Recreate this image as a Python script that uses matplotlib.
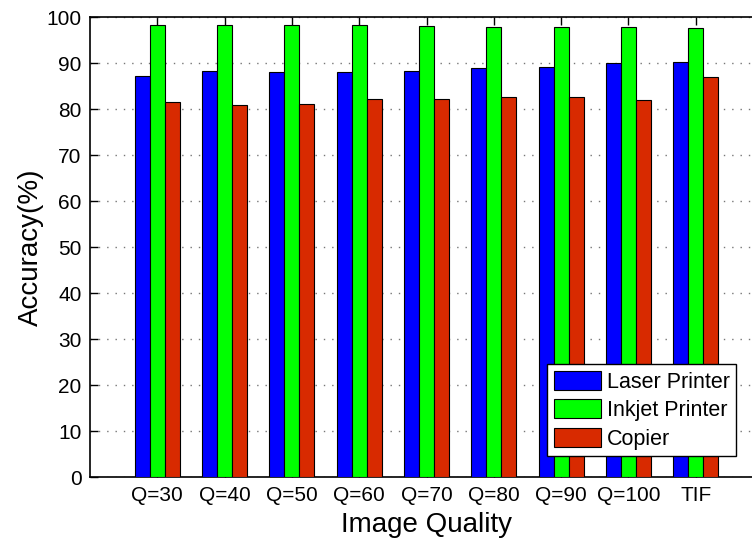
import matplotlib
matplotlib.use("Agg")
import matplotlib.pyplot as plt
import numpy as np

plt.rcParams['font.family'] = ['Liberation Sans', 'DejaVu Sans']

categories = ["Q=30", "Q=40", "Q=50", "Q=60", "Q=70", "Q=80", "Q=90", "Q=100", "TIF"]
laser = [87.2, 88.3, 88.2, 88.2, 88.4, 88.9, 89.1, 90.1, 90.2]
inkjet = [98.3, 98.3, 98.3, 98.3, 98.2, 98.0, 98.0, 97.8, 97.7]
copier = [81.5, 80.9, 81.1, 82.2, 82.3, 82.7, 82.6, 82.0, 87.0]
series_names = ["Laser Printer", "Inkjet Printer", "Copier"]
series_colors = ["#0000FF", "#00FF00", "#D82A00"]

fig = plt.figure(figsize=(7.52, 5.40), dpi=100)
ax = fig.add_axes([90 / 752, 1 - 477.3 / 540, 673 / 752, 460 / 540])

x = np.arange(1, len(categories) + 1)
w = 0.223
for i, (vals, name, col) in enumerate(zip([laser, inkjet, copier], series_names, series_colors)):
    ax.bar(x + (i - 1) * w, vals, width=w, color=col, edgecolor='black',
           linewidth=0.8, label=name, zorder=3)

ax.set_xlim(0, 10)
ax.set_ylim(0, 100)
ax.set_xticks(x)
ax.set_xticklabels(categories, fontsize=15)
ax.set_yticks(np.arange(0, 101, 10))
ax.tick_params(axis='y', labelsize=15)
ax.tick_params(direction='in', length=6, width=1, top=True, right=True, pad=6)
ax.yaxis.grid(True, linestyle=(0, (1, 5)), color='#777777', linewidth=1.0, zorder=0)
ax.set_axisbelow(True)
for s in ax.spines.values():
    s.set_linewidth(1.2)

ax.set_xlabel("Image Quality", fontsize=20, labelpad=5)
ax.set_ylabel("Accuracy(%)", fontsize=20, labelpad=2)

leg = ax.legend(loc='lower right', bbox_to_anchor=(736 / 752, 84 / 540),
                bbox_transform=fig.transFigure, fontsize=15.5, frameon=True,
                fancybox=False, shadow=False, handlelength=2.2, handleheight=1.0,
                labelspacing=0.3, handletextpad=0.25, borderpad=0.3, borderaxespad=0)
leg.get_frame().set_edgecolor('black')
leg.get_frame().set_linewidth(1.0)
leg.get_frame().set_alpha(1.0)
leg.set_zorder(5)

fig.savefig("out.png", dpi=100)
